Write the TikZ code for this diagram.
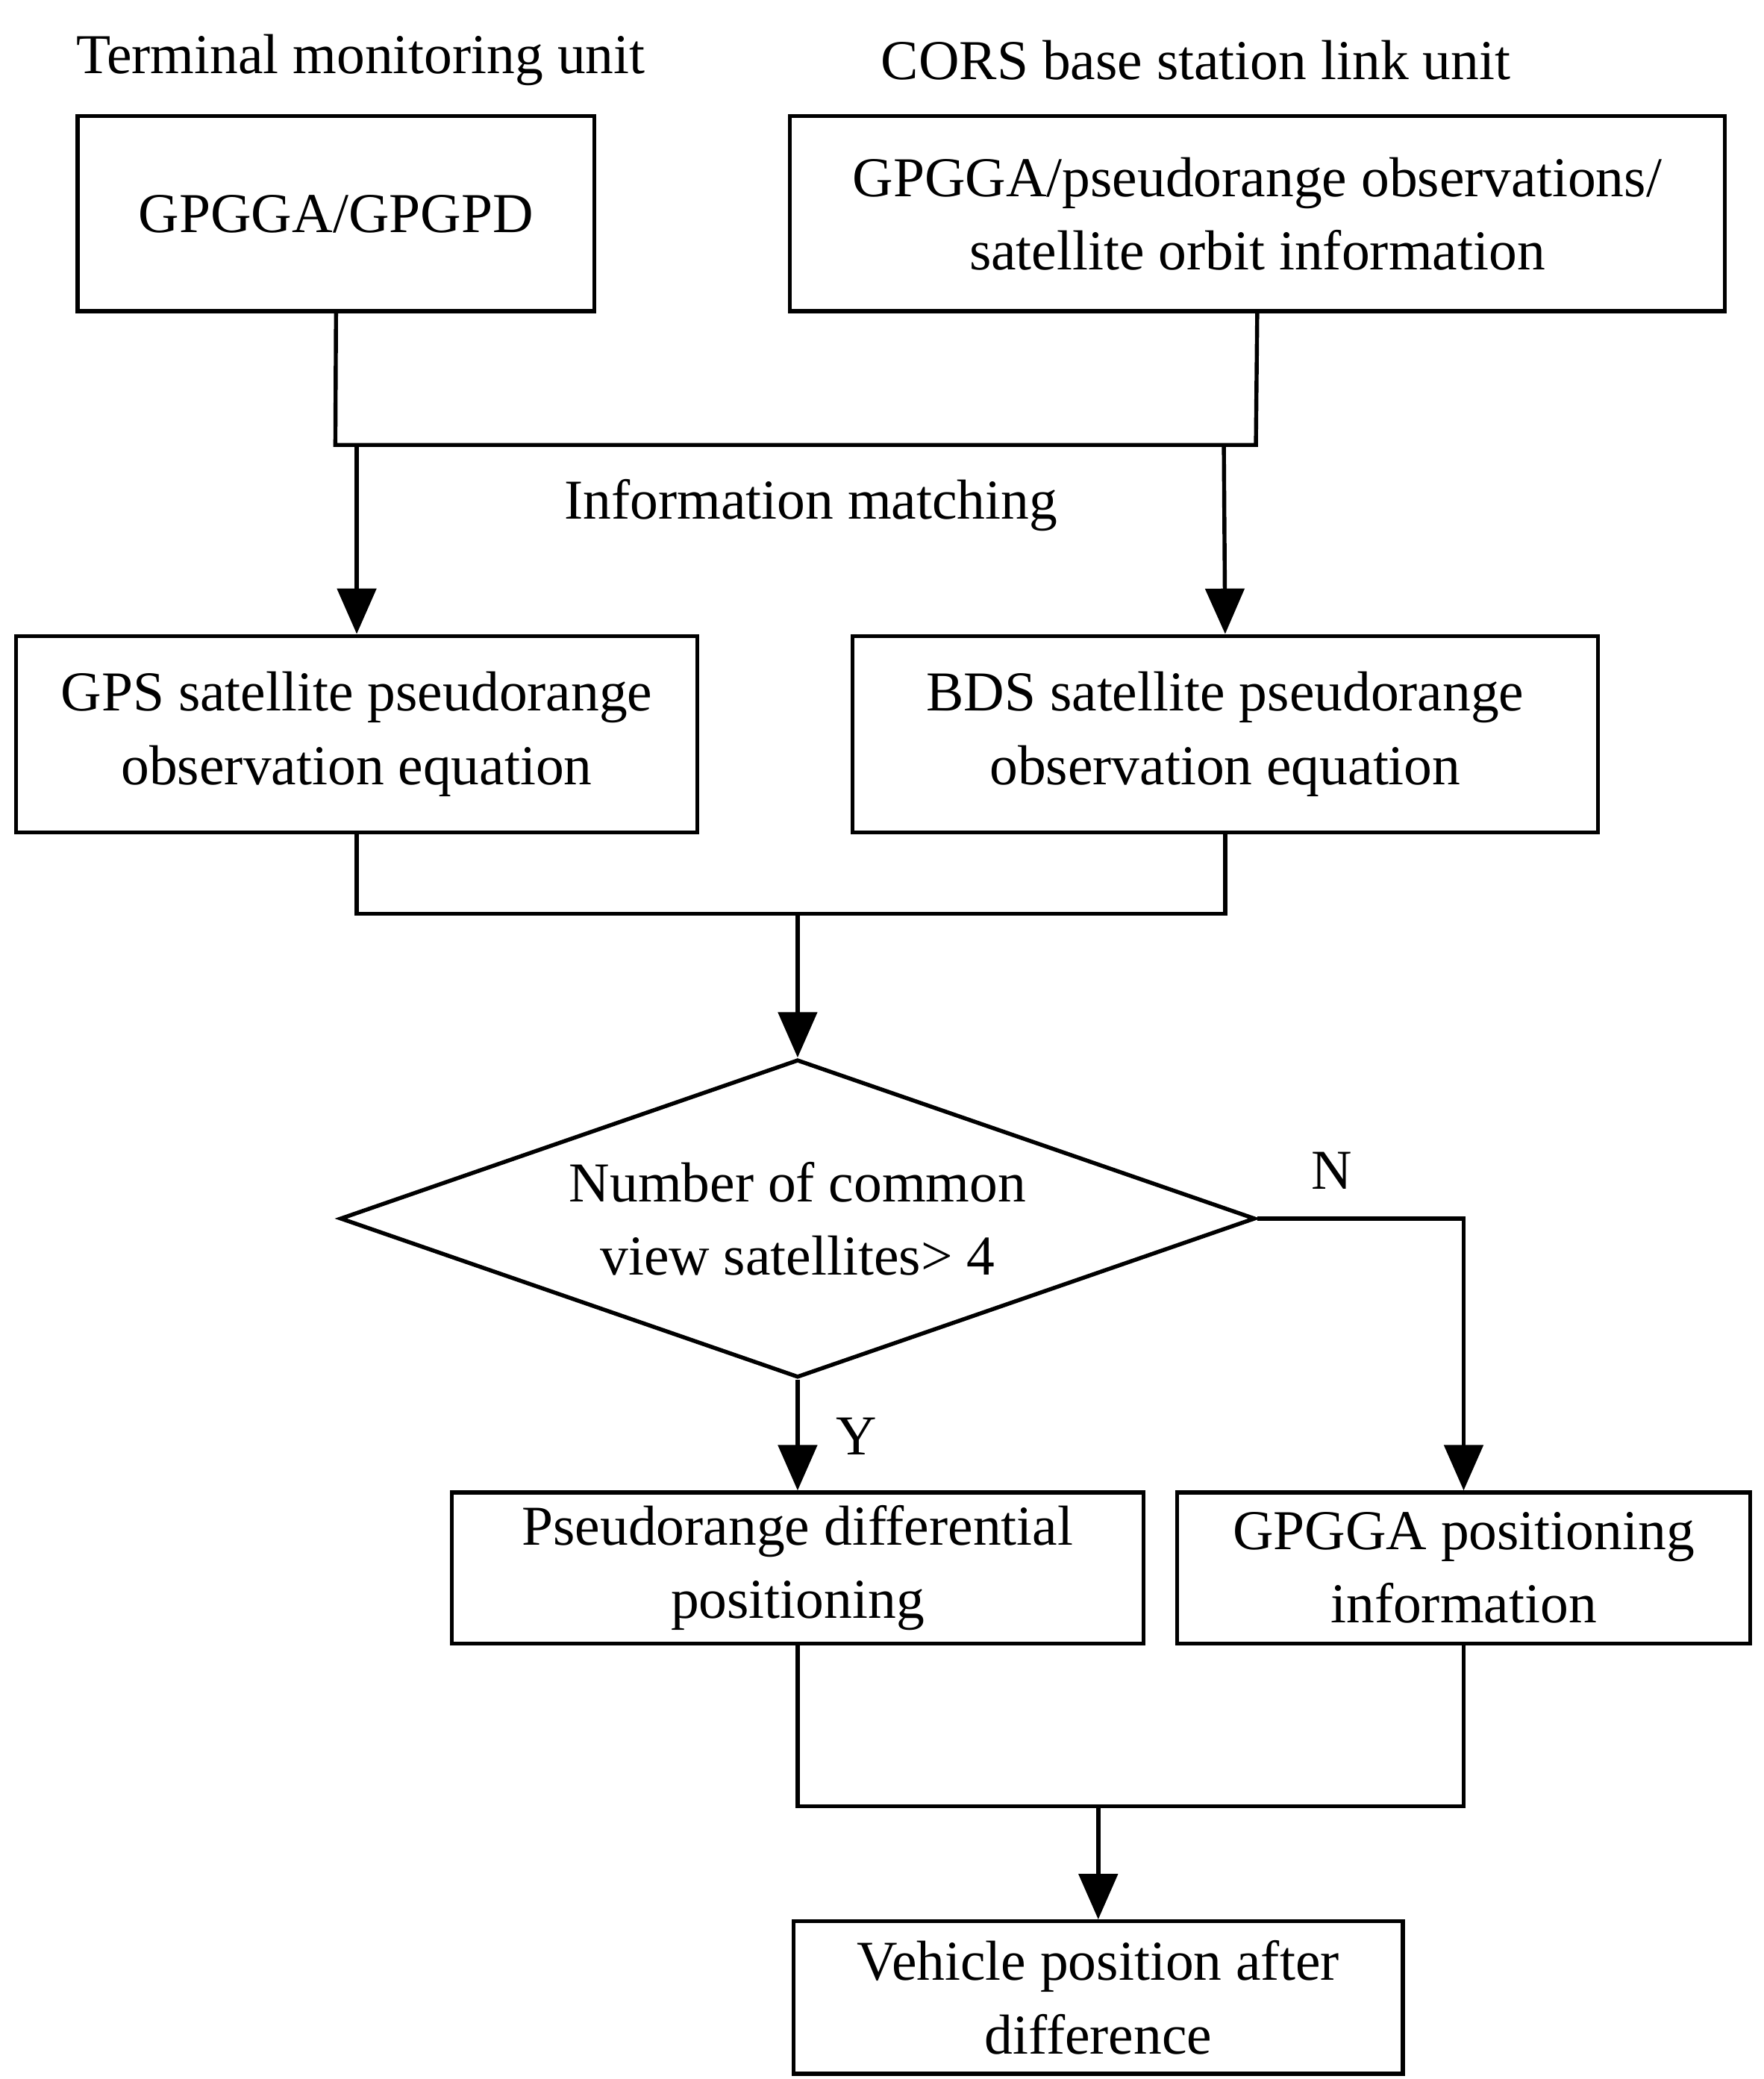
\documentclass[tikz,border=0pt]{standalone}
\usepackage{fontspec}
\setmainfont{Liberation Serif}
\usetikzlibrary{shapes.geometric,arrows.meta}
\begin{document}
\begin{tikzpicture}[x=0.05cm,y=-0.05cm,
  every node/.style={font=\fontsize{60}{78}\selectfont},
  box/.style={draw,line width=4.3pt,align=center,inner sep=0pt},
  ln/.style={line width=4.3pt},
  ar/.style={line width=4.3pt,-{Triangle[length=1.7cm,width=1.45cm]}}]
\useasboundingbox (0,0) rectangle (1320,1556);
\node (t1) at (270,45) {Terminal monitoring unit};
\node (t2) at (895,45) {CORS base station link unit};
\node[box,minimum width=19.35cm,minimum height=7.3cm] (b1) at (251.5,160) {GPGGA/GPGPD};
\node[box,minimum width=35cm,minimum height=7.3cm] (b2) at (941,160) {GPGGA/pseudorange observations/\\satellite orbit information};
\node[box,minimum width=25.5cm,minimum height=7.35cm] (b3) at (267,549.5) {GPS satellite pseudorange\\observation equation};
\node[box,minimum width=27.9cm,minimum height=7.35cm] (b4) at (917,549.5) {BDS satellite pseudorange\\observation equation};
\node (im) at (607,378) {Information matching};
\node[diamond,draw,line width=4.3pt,minimum width=34.25cm,minimum height=11.9cm,aspect=2.88,inner sep=0pt,align=center] (d) at (597,912) {Number of common\\view satellites> 4};
\node[box,minimum width=25.9cm,minimum height=5.65cm] (b5) at (597,1173.5) {Pseudorange differential\\positioning};
\node[box,minimum width=21.45cm,minimum height=5.65cm] (b6) at (1095.5,1173.5) {GPGGA positioning\\information};
\node[box,minimum width=22.8cm,minimum height=5.7cm] (b7) at (822,1495) {Vehicle position after\\difference};
\node (N) at (997,876) {N};
\node (Y) at (641,1075) {Y};
\coordinate (c1) at (251,333); \coordinate (c2) at (940,333);
\coordinate (c3) at (267,333); \coordinate (c4) at (916,333);
\draw[ln] (b1.south) -- (c1) -- (c2) -- (b2.south);
\draw[ar] (c3) -- (b3.north);
\draw[ar] (c4) -- (b4.north);
\coordinate (m1) at (597,684);
\draw[ln] (b3.south) |- (m1) -| (b4.south);
\draw[ar] (m1) -- (d.north);
\draw[ar] (d.east) -| (b6.north);
\draw[ar] (d.south) -- (b5.north);
\coordinate (m2) at (822,1352);
\draw[ln] (b5.south) |- (m2) -| (b6.south);
\draw[ar] (m2) -- (b7.north);
\end{tikzpicture}
\end{document}
